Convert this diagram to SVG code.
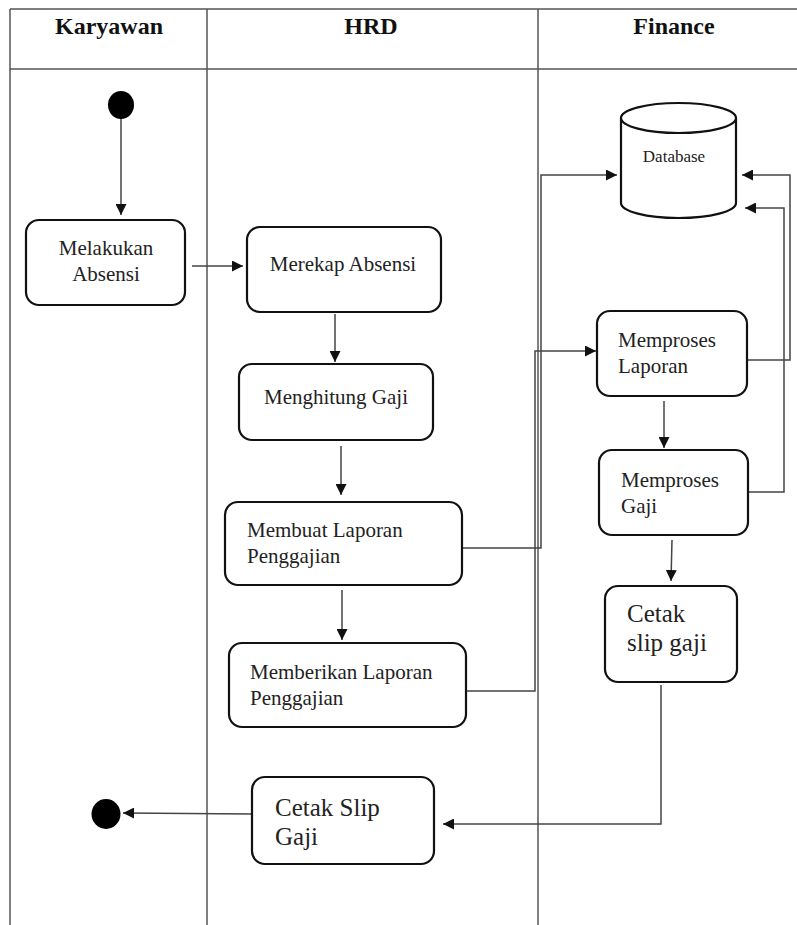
<svg xmlns="http://www.w3.org/2000/svg" width="797" height="925" viewBox="0 0 797 925">
<style>
.lane{stroke:#555;stroke-width:1.5;fill:none}
.hdr{font-family:"Liberation Serif",serif;font-weight:bold;font-size:24px;fill:#111;text-anchor:middle}
.box{fill:#fff;stroke:#111;stroke-width:2.2}
.t{font-family:"Liberation Serif",serif;font-size:21px;fill:#222}
.tb{font-family:"Liberation Serif",serif;font-size:25px;fill:#222}
.c{stroke:#444;stroke-width:1.5;fill:none}
</style>
<defs>
<marker id="ah" viewBox="0 0 10 10" refX="10" refY="5" markerWidth="11" markerHeight="11" markerUnits="userSpaceOnUse" orient="auto">
<path d="M0,0 L10,5 L0,10 z" fill="#111"/>
</marker>
</defs>
<g id="swimlanes">
<line class="lane" x1="10" y1="9" x2="797" y2="9"/>
<line class="lane" x1="10" y1="69" x2="797" y2="69"/>
<line class="lane" x1="10" y1="9" x2="10" y2="925"/>
<line class="lane" x1="207" y1="9" x2="207" y2="925"/>
<line class="lane" x1="538" y1="9" x2="538" y2="925"/>
<text class="hdr" x="109" y="34">Karyawan</text>
<text class="hdr" x="371" y="34">HRD</text>
<text class="hdr" x="674" y="34">Finance</text>
</g>
<g id="connectors">
<line class="c" x1="121" y1="119" x2="121" y2="215" marker-end="url(#ah)"/>
<line class="c" x1="192" y1="266" x2="243" y2="266" marker-end="url(#ah)"/>
<line class="c" x1="335" y1="314" x2="335" y2="362" marker-end="url(#ah)"/>
<line class="c" x1="341" y1="446" x2="341" y2="495" marker-end="url(#ah)"/>
<line class="c" x1="342" y1="590" x2="342" y2="640" marker-end="url(#ah)"/>
<path class="c" d="M462,548 H541 V175 H617" marker-end="url(#ah)"/>
<path class="c" d="M466,691 H535 V351 H596" marker-end="url(#ah)"/>
<path class="c" d="M748,360 H790 V175 H742" marker-end="url(#ah)"/>
<path class="c" d="M749,492 H784 V208 H745" marker-end="url(#ah)"/>
<line class="c" x1="664" y1="401" x2="664" y2="448" marker-end="url(#ah)"/>
<line class="c" x1="672" y1="540" x2="671" y2="581" marker-end="url(#ah)"/>
<path class="c" d="M661,685 V824 H443" marker-end="url(#ah)"/>
<line class="c" x1="252" y1="814" x2="123" y2="813" marker-end="url(#ah)"/>
</g>
<g id="start"><ellipse cx="121" cy="105" rx="13" ry="14" fill="#000"/></g>
<g id="end"><ellipse cx="106" cy="814" rx="14.5" ry="15" fill="#000"/></g>
<g id="melakukan-absensi">
<rect class="box" x="26" y="220" width="159" height="85" rx="13"/>
<text class="t" x="106" y="255" text-anchor="middle">Melakukan</text>
<text class="t" x="106" y="281" text-anchor="middle">Absensi</text>
</g>
<g id="merekap-absensi">
<rect class="box" x="247" y="227" width="194" height="85" rx="13"/>
<text class="t" x="343" y="271" text-anchor="middle">Merekap Absensi</text>
</g>
<g id="menghitung-gaji">
<rect class="box" x="239" y="364" width="194" height="76" rx="13"/>
<text class="t" x="336" y="404" text-anchor="middle">Menghitung Gaji</text>
</g>
<g id="membuat-laporan">
<rect class="box" x="225" y="502" width="237" height="83" rx="13"/>
<text class="t" x="247" y="537">Membuat Laporan</text>
<text class="t" x="247" y="563">Penggajian</text>
</g>
<g id="memberikan-laporan">
<rect class="box" x="229" y="643" width="237" height="84" rx="13"/>
<text class="t" x="250" y="679">Memberikan Laporan</text>
<text class="t" x="250" y="705">Penggajian</text>
</g>
<g id="cetak-slip-gaji-karyawan">
<rect class="box" x="252" y="777" width="182" height="87" rx="13"/>
<text class="tb" x="275" y="816">Cetak Slip</text>
<text class="tb" x="275" y="845">Gaji</text>
</g>
<g id="database">
<path class="box" d="M621,118 V203 A57.5,15 0 0 0 736,203 V118"/>
<ellipse class="box" cx="678.5" cy="118" rx="57.5" ry="15"/>
<text x="674" y="162" font-family="Liberation Serif,serif" font-size="17" fill="#222" text-anchor="middle">Database</text>
</g>
<g id="memproses-laporan">
<rect class="box" x="597" y="311" width="150" height="85" rx="13"/>
<text class="t" x="618" y="347">Memproses</text>
<text class="t" x="618" y="373">Laporan</text>
</g>
<g id="memproses-gaji">
<rect class="box" x="599" y="450" width="149" height="85" rx="13"/>
<text class="t" x="621" y="487">Memproses</text>
<text class="t" x="621" y="513">Gaji</text>
</g>
<g id="cetak-slip-gaji-finance">
<rect class="box" x="605" y="586" width="132" height="96" rx="13"/>
<text class="tb" x="627" y="622">Cetak</text>
<text class="tb" x="627" y="651">slip gaji</text>
</g>
</svg>
